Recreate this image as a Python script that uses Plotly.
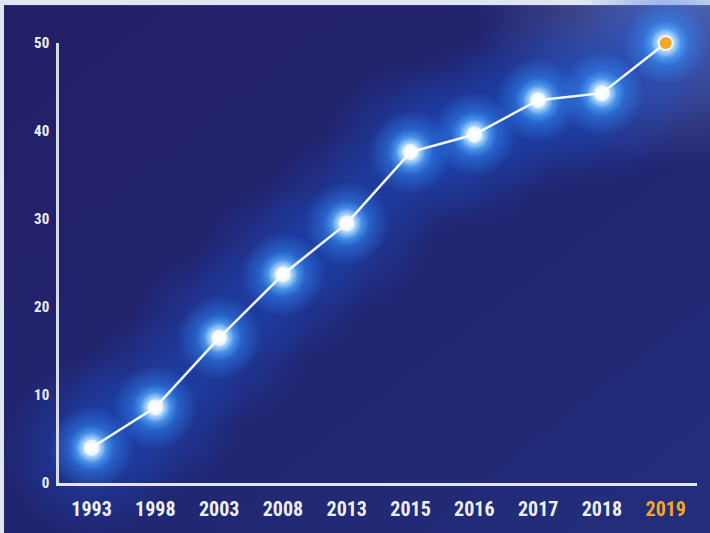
import base64
import plotly.graph_objects as go

# Data
years = ["1993", "1998", "2003", "2008", "2013", "2015", "2016", "2017", "2018", "2019"]
values = [4.0, 8.6, 16.5, 23.7, 29.5, 37.6, 39.6, 43.5, 44.3, 50.0]
y_ticks = [0, 10, 20, 30, 40, 50]
highlight_year = "2019"

W, H = 710, 533
ML, MR, MT, MB = 59, 13, 43, 50
PW, PH = W - ML - MR, H - MT - MB

ORANGE = "#f5a623"
NAVY = "#22236e"

# Background artwork: pale frame on top/left, navy panel, soft light in the top-right corner
bg_svg = f"""<svg xmlns='http://www.w3.org/2000/svg' width='{W}' height='{H}' viewBox='0 0 {W} {H}' preserveAspectRatio='none'>
<defs>
<linearGradient id='navy' x1='0' y1='0' x2='1' y2='1'>
<stop offset='0' stop-color='#241f66'/>
<stop offset='0.5' stop-color='#212570'/>
<stop offset='1' stop-color='#232f7c'/>
</linearGradient>
<radialGradient id='corner' cx='0.97' cy='0.0' r='0.3'>
<stop offset='0' stop-color='#6c78b4' stop-opacity='0.8'/>
<stop offset='1' stop-color='#6c78b4' stop-opacity='0'/>
</radialGradient>
</defs>
<rect x='0' y='0' width='{W}' height='{H + 10}' fill='url(#navy)'/>
<rect x='0' y='0' width='{W}' height='{H + 10}' fill='url(#corner)'/>
<rect x='0' y='0' width='{W}' height='5' fill='#dfe6f2'/>
<rect x='0' y='0' width='4' height='{H + 10}' fill='#dfe6f2'/>
</svg>"""
bg_uri = "data:image/svg+xml;base64," + base64.b64encode(bg_svg.encode()).decode()

fig = go.Figure()

def glow(size, center, edge):
    # radial gradient marker: gradient.color is the centre, marker.color the rim
    fig.add_trace(go.Scatter(
        x=years, y=values, mode="markers", hoverinfo="skip", showlegend=False,
        marker=dict(size=size, color=edge, line=dict(width=0),
                    gradient=dict(type="radial", color=center)),
        cliponaxis=False,
    ))

glow(180, "rgba(25,85,215,0.55)", "rgba(25,85,215,0)")
glow(84, "rgba(55,150,255,0.9)", "rgba(55,150,255,0)")
glow(46, "rgba(180,228,255,1)", "rgba(100,190,255,0)")

# connecting line
fig.add_trace(go.Scatter(
    x=years, y=values, mode="lines", hoverinfo="skip", showlegend=False,
    line=dict(color="#f4f7ff", width=2.5), cliponaxis=False,
))

# soft white cores
glow(30, "rgba(255,255,255,1)", "rgba(255,255,255,0)")
glow(16, "rgba(255,255,255,1)", "rgba(255,255,255,0.6)")

# the latest year is marked in orange
hi_x = [y for y in years if y == highlight_year]
hi_y = [v for y, v in zip(years, values) if y == highlight_year]
fig.add_trace(go.Scatter(
    x=hi_x, y=hi_y, mode="markers", hoverinfo="skip", showlegend=False,
    marker=dict(size=12, color=ORANGE, opacity=1, line=dict(width=0)),
    cliponaxis=False,
))

tick_text = [f"<span style='color:{ORANGE}'>{y}</span>" if y == highlight_year else y
             for y in years]

font_family = "Liberation Sans Narrow, Arial Narrow, Roboto Condensed, DejaVu Sans Condensed, sans-serif"

fig.update_layout(
    width=W, height=H,
    margin=dict(l=ML, r=MR, t=MT, b=MB, pad=0),
    paper_bgcolor=NAVY,
    plot_bgcolor="rgba(0,0,0,0)",
    showlegend=False,
    images=[dict(
        source=bg_uri, xref="paper", yref="paper",
        x=-ML / PW, y=1 + MT / PH, sizex=W / PW, sizey=(H + 10) / PH,
        xanchor="left", yanchor="top", sizing="stretch", layer="below",
    )],
    xaxis=dict(
        type="category", range=[-0.51, 9.49],
        tickvals=years, ticktext=tick_text,
        showgrid=False, zeroline=False,
        showline=True, linecolor="#e3e7f2", linewidth=2.5,
        ticks="", ticklabelstandoff=6,
        tickfont=dict(family=font_family, size=20, color="#eef0f8", weight="bold"),
        fixedrange=True,
    ),
    yaxis=dict(
        range=[0, 50], tickvals=y_ticks,
        showgrid=False, zeroline=False,
        showline=True, linecolor="#d5d9e8", linewidth=2.5,
        ticks="", ticklabelstandoff=4,
        tickfont=dict(family=font_family, size=15, color="#eef0f8", weight="bold"),
        fixedrange=True,
    ),
)

fig.write_html("out.html")
